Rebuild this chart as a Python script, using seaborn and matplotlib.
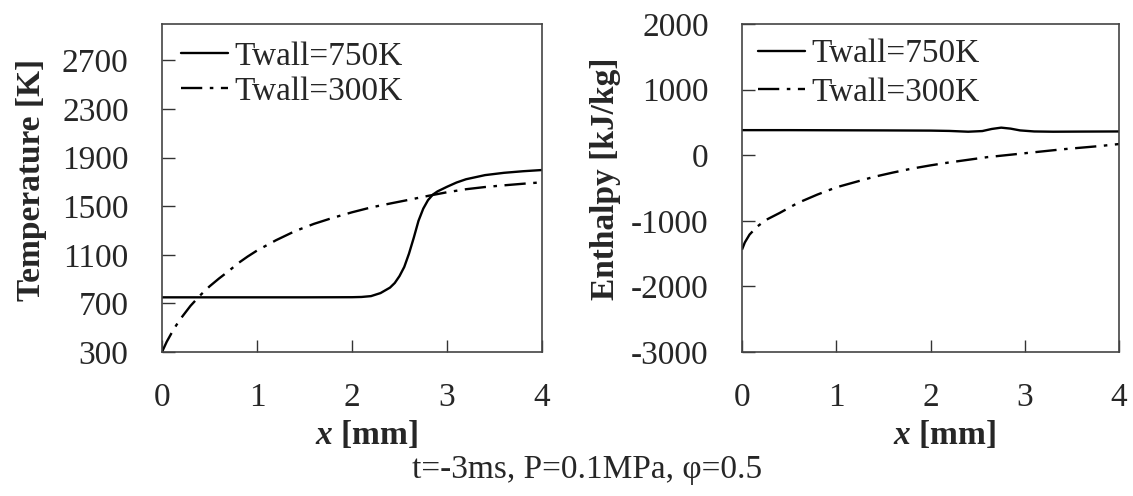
import numpy as np
import pandas as pd
import matplotlib
matplotlib.use("Agg")
import matplotlib.pyplot as plt
import seaborn as sns

# ---- data ----
x_T750 = [0.0, 0.5, 1.0, 1.5, 2.0, 2.1, 2.2, 2.3, 2.4, 2.45, 2.5, 2.55, 2.6, 2.65, 2.7, 2.75, 2.8, 2.85, 2.9, 3.0, 3.1, 3.2, 3.4, 3.6, 3.8, 4.0]
T_750 = [750, 750, 750, 750, 751, 753, 760, 785, 830, 868, 925, 1000, 1110, 1240, 1380, 1480, 1550, 1595, 1622, 1660, 1695, 1722, 1756, 1775, 1788, 1798]
x_T300 = [0.0, 0.05, 0.1, 0.15, 0.2, 0.3, 0.4, 0.5, 0.6, 0.7, 0.8, 0.9, 1.0, 1.2, 1.4, 1.6, 1.8, 2.0, 2.2, 2.4, 2.6, 2.8, 3.0, 3.2, 3.4, 3.6, 3.8, 4.0]
T_300 = [300, 385, 455, 520, 578, 680, 765, 840, 905, 965, 1030, 1085, 1135, 1220, 1295, 1355, 1405, 1450, 1490, 1522, 1553, 1585, 1615, 1640, 1658, 1672, 1685, 1697]

x_H750 = [0.0, 0.5, 1.0, 1.5, 2.0, 2.2, 2.4, 2.55, 2.65, 2.75, 2.85, 2.95, 3.1, 3.3, 3.6, 4.0]
H_750 = [382, 382, 380, 378, 375, 370, 358, 368, 400, 420, 405, 378, 362, 358, 360, 362]
x_H300 = [0.0, 0.03, 0.08, 0.16, 0.25, 0.4, 0.59, 0.8, 1.0, 1.2, 1.4, 1.6, 1.8, 2.0, 2.2, 2.4, 2.6, 2.8, 3.0, 3.2, 3.4, 3.6, 3.8, 4.0]
H_300 = [-1440, -1330, -1210, -1090, -990, -880, -729, -600, -490, -410, -330, -265, -205, -155, -110, -70, -30, 0, 30, 60, 90, 115, 140, 170]

labels = ["Twall=750K", "Twall=300K"]
x_ticks = [0, 1, 2, 3, 4]
T_ticks = [300, 700, 1100, 1500, 1900, 2300, 2700]
H_ticks = [-3000, -2000, -1000, 0, 1000, 2000]
caption = "t=-3ms, P=0.1MPa, φ=0.5"

sns.set_style("white")
plt.rcParams["font.family"] = ["Liberation Serif", "DejaVu Serif"]
plt.rcParams["mathtext.fontset"] = "custom"
plt.rcParams["mathtext.bfit"] = "Liberation Serif:italic:bold"
plt.rcParams["mathtext.rm"] = "Liberation Serif"
plt.rcParams["mathtext.it"] = "Liberation Serif:italic"
plt.rcParams["mathtext.bf"] = "Liberation Serif:bold"

fs = 24
fig = plt.figure(figsize=(11.33, 4.96), dpi=100)
ax1 = fig.add_axes([162 / 1133, 1 - 352 / 496, 380 / 1133, 328 / 496])
ax2 = fig.add_axes([742 / 1133, 1 - 352 / 496, 377 / 1133, 328 / 496])

dashdot = (9, 3.2, 1.5, 3.2)
lw = 1.7

def draw(ax, xa, ya, xb, yb):
    da = pd.DataFrame({"x": xa, "y": ya})
    db = pd.DataFrame({"x": xb, "y": yb})
    sns.lineplot(data=da, x="x", y="y", ax=ax, color="black", lw=lw, label=labels[0])
    sns.lineplot(data=db, x="x", y="y", ax=ax, color="black", lw=lw, label=labels[1])
    ax.lines[-1].set_dashes(dashdot)

draw(ax1, x_T750, T_750, x_T300, T_300)
draw(ax2, x_H750, H_750, x_H300, H_300)

legpos = {ax1: (0.05, 0.948), ax2: (0.043, 0.955)}
legsp = {ax1: 0.15, ax2: 0.24}
for ax in (ax1, ax2):
    ax.set_xlim(0, 4)
    ax.set_xticks(x_ticks)
    ax.set_xticklabels([str(v) for v in x_ticks])
    ax.tick_params(direction="in", length=9, width=1.0, color="#333333",
                   labelsize=fs, pad=22, bottom=True, left=True)
    ax.tick_params(axis="y", pad=24)
    for s in ax.spines.values():
        s.set_color("#444444")
        s.set_linewidth(1.2)
    ax.set_xlabel(r"$\mathbfit{x}$ [mm]", fontsize=fs, fontweight="bold")
    leg = ax.legend(loc="upper left", frameon=False, fontsize=fs,
                    handlelength=1.4, handletextpad=0.2, labelspacing=legsp[ax],
                    borderaxespad=0, borderpad=0,
                    bbox_to_anchor=legpos[ax])
    for h in leg.get_lines():
        h.set_linewidth(lw)
    leg.get_lines()[1].set_dashes(dashdot)

ax1.set_ylim(300, 3000)
ax1.set_yticks(T_ticks)
ax1.set_yticklabels([str(v) for v in T_ticks])
ax1.set_ylabel("Temperature [K]", fontsize=fs, fontweight="bold")
ax1.yaxis.set_label_coords(-0.302, 0.524)
ax1.xaxis.set_label_coords(0.537, -0.205)

ax2.set_ylim(-3000, 2000)
ax2.set_yticks(H_ticks)
ax2.set_yticklabels([str(v) for v in H_ticks])
ax2.set_ylabel("Enthalpy [kJ/kg]", fontsize=fs, fontweight="bold")
ax2.yaxis.set_label_coords(-0.322, 0.527)
ax2.xaxis.set_label_coords(0.537, -0.205)

fig.text(587 / 1133, 1 - 470 / 496, caption, ha="center", va="center", fontsize=fs)

fig.savefig("out.png", dpi=100)
